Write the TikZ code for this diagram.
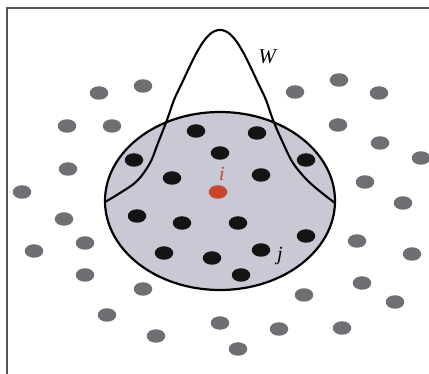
\documentclass[tikz,border=0pt]{standalone}
\usepackage{fontspec}
\setmainfont{Liberation Serif}
\usetikzlibrary{shapes.geometric}
\definecolor{greydot}{HTML}{6E6E73}
\definecolor{blackdot}{HTML}{141414}
\definecolor{regionfill}{HTML}{C9C9D5}
\definecolor{reddot}{HTML}{C8462C}
\definecolor{framecol}{HTML}{555555}
\tikzset{
  dotbase/.style={ellipse, inner sep=0pt, minimum width=18.5pt, minimum height=13.5pt},
  gdot/.style={dotbase, fill=greydot},
  bdot/.style={dotbase, fill=blackdot},
  rdot/.style={dotbase, fill=reddot},
  region/.style={ellipse, draw=black, line width=2.2pt, fill=regionfill, inner sep=0pt, minimum width=230pt, minimum height=178pt},
  kernel/.style={draw=black, line width=2.1pt, line join=round, line cap=round},
  lbl/.style={inner sep=0pt},
  frameline/.style={draw=framecol, line width=1.5pt}
}
\begin{document}
\begin{tikzpicture}[x=1pt,y=-1pt]
\useasboundingbox (0,0) rectangle (429,374);
\fill[white] (0,0) rectangle (429,374);
% frame
\coordinate (fbl) at (7,374);
\coordinate (ftl) at (7,8);
\coordinate (ftr) at (429,8);
\draw[frameline] (fbl) -- (ftl) -- (ftr);
% grey dots
\foreach \x/\y [count=\n] in {
 99/93, 143/86, 67/126, 112/126, 68/169, 22/192,
 295/92, 339/80, 379/93, 338/125, 380/143, 421/158, 365/182, 403/203,
 64/219, 85/243, 34/251, 85/275, 143/289, 107/315, 156/336,
 357/241, 412/254, 362/283, 304/295, 395/302, 279/329, 342/328,
 220/323, 238/349}
 \node[gdot] (g\n) at (\x,\y) {};
% region
\node[region] (R) at (220,201) {};
% kernel curve
\coordinate (kl) at (105,202);
\coordinate (kr) at (335,203);
\coordinate (kpeak) at (220,30);
\draw[kernel] plot[smooth, tension=0.6] coordinates {
 (kl) (120,193) (137,181) (150,163) (158,143) (167,120) (174,100) (181,85)
 (197,52) (209,35) (kpeak) (231,35) (243,52) (259,85) (266,100) (273,120)
 (283,143) (293,163) (307,180) (322,193) (kr)};
% black dots
\foreach \x/\y [count=\n] in {
 196/131, 257/133, 134/160, 220/153, 306/160, 172/178, 261/175,
 137/216, 182/223, 238/223, 306/236, 164/253, 212/258, 261/250, 241/275}
 \node[bdot] (b\n) at (\x,\y) {};
% centre dot
\node[rdot] (i) at (218,192) {};
% labels
\node[lbl, text=reddot, font=\itshape\fontsize{20}{20}\selectfont] (li) at (222,174) {i};
\node[lbl, font=\itshape\fontsize{20}{20}\selectfont] (lj) at (280,256) {j};
\node[lbl, font=\itshape\fontsize{21}{21}\selectfont] (lW) at (267,57) {W};
\end{tikzpicture}
\end{document}
